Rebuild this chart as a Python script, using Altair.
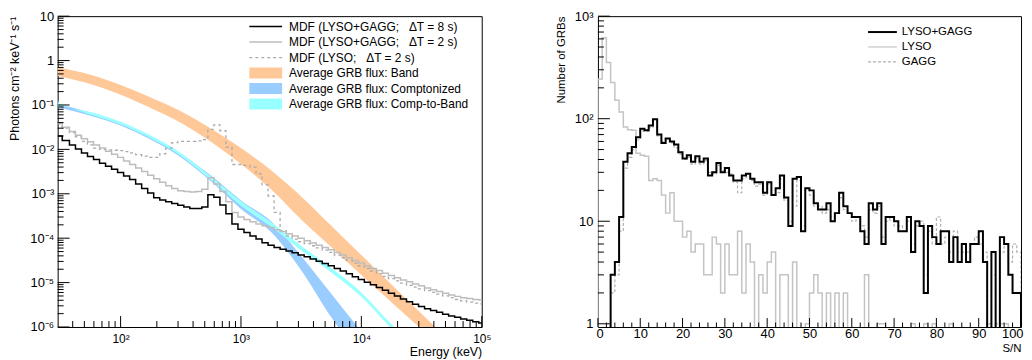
import altair as alt
import pandas as pd

FONT = "Liberation Sans"

# ---------------- LEFT PANEL: MDF vs energy ----------------
# log10(E / keV) of the MDF histogram points
mdf_log_energy = [1.48, 1.55, 1.60, 1.65, 1.70, 1.75, 1.80, 1.85, 1.90, 1.95,
                  2.00, 2.05, 2.10, 2.15, 2.20, 2.25, 2.30, 2.35, 2.40, 2.45,
                  2.50, 2.55, 2.60, 2.65, 2.70, 2.75, 2.80, 2.85, 2.90, 2.95,
                  3.00, 3.05, 3.10, 3.15, 3.20, 3.25, 3.30, 3.35, 3.40, 3.45,
                  3.50, 3.55, 3.60, 3.65, 3.70, 3.75, 3.80, 3.85, 3.90, 3.95,
                  4.00, 4.05, 4.10, 4.15, 4.20, 4.25, 4.30, 4.35, 4.40, 4.45,
                  4.50, 4.55, 4.60, 4.65, 4.70, 4.75, 4.80, 4.85, 4.90, 4.95,
                  5.00]
# log10(flux)
mdf_lyso_gagg_8s = [-1.70, -1.80, -1.90, -1.99, -2.08, -2.16, -2.23, -2.31, -2.38, -2.45,
                    -2.52, -2.60, -2.68, -2.78, -2.88, -2.98, -3.09, -3.14, -3.18, -3.22,
                    -3.26, -3.30, -3.33, -3.33, -3.30, -3.02, -3.08, -3.25, -3.45, -3.68,
                    -3.80, -3.87, -3.95, -4.02, -4.10, -4.16, -4.21, -4.25, -4.29, -4.33,
                    -4.38, -4.42, -4.47, -4.52, -4.57, -4.62, -4.68, -4.74, -4.80, -4.87,
                    -4.93, -4.99, -5.05, -5.11, -5.17, -5.24, -5.30, -5.37, -5.43, -5.49,
                    -5.54, -5.59, -5.63, -5.67, -5.71, -5.75, -5.78, -5.82, -5.85, -5.88,
                    -5.91]
mdf_lyso_gagg_2s = [-1.40, -1.50, -1.60, -1.68, -1.76, -1.83, -1.90, -1.97, -2.04, -2.11,
                    -2.18, -2.26, -2.34, -2.42, -2.50, -2.58, -2.66, -2.74, -2.82, -2.88,
                    -2.93, -2.95, -2.96, -2.95, -2.90, -2.64, -2.78, -2.95, -3.18, -3.42,
                    -3.52, -3.58, -3.63, -3.68, -3.72, -3.76, -3.81, -3.85, -3.90, -3.95,
                    -4.00, -4.06, -4.11, -4.16, -4.21, -4.26, -4.32, -4.38, -4.44, -4.50,
                    -4.56, -4.62, -4.68, -4.73, -4.79, -4.84, -4.89, -4.94, -4.98, -5.03,
                    -5.07, -5.12, -5.16, -5.20, -5.24, -5.28, -5.31, -5.34, -5.36, -5.38,
                    -5.39]
mdf_lyso_2s = [-1.42, -1.52, -1.62, -1.72, -1.82, -1.90, -1.97, -2.00, -2.01, -2.02,
               -2.03, -2.05, -2.08, -2.12, -2.15, -2.18, -2.18, -2.10, -1.97, -1.85,
               -1.82, -1.82, -1.82, -1.81, -1.78, -1.55, -1.45, -1.58, -1.95, -2.34,
               -2.34, -2.36, -2.40, -2.55, -2.80, -3.05, -3.42, -3.83, -3.95, -4.02,
               -4.08, -4.12, -4.17, -4.22, -4.27, -4.32, -4.38, -4.44, -4.50, -4.56,
               -4.62, -4.68, -4.74, -4.80, -4.86, -4.91, -4.96, -5.01, -5.06, -5.10,
               -5.14, -5.18, -5.22, -5.26, -5.30, -5.34, -5.38, -5.41, -5.44, -5.46,
               -5.48]

# Average GRB flux bands: log10(E/keV), log10(upper), log10(lower)
band_log_energy = [1.477, 1.75, 2.0, 2.25, 2.5, 2.75, 3.0, 3.25, 3.5, 3.75, 4.0, 4.25, 4.5, 4.75]
band_upper = [-0.15, -0.32, -0.55, -0.83, -1.14, -1.53, -1.97, -2.47, -3.06, -3.72, -4.38, -5.04, -5.70, -6.35]
band_lower = [-0.34, -0.53, -0.77, -1.07, -1.40, -1.83, -2.33, -2.90, -3.58, -4.20, -4.83, -5.44, -6.05, -6.65]

compt_log_energy = [1.477, 1.75, 2.0, 2.25, 2.5, 2.75, 3.0, 3.25, 3.5, 3.75, 4.0]
compt_upper = [-0.97, -1.17, -1.39, -1.70, -2.09, -2.59, -3.15, -3.62, -4.40, -5.25, -6.10]
compt_lower = [-1.05, -1.24, -1.46, -1.78, -2.18, -2.72, -3.34, -3.86, -4.72, -5.78, -6.70]

c2b_log_energy = [1.477, 1.49, 1.75, 2.0, 2.25, 2.5, 2.75, 3.0, 3.25, 3.5, 3.75, 4.0, 4.25, 4.5]
c2b_upper = [-0.85, -0.97, -1.16, -1.38, -1.69, -2.08, -2.61, -3.17, -3.64, -4.17, -4.67, -5.22, -5.94, -6.60]
c2b_lower = [-1.12, -1.03, -1.22, -1.44, -1.75, -2.15, -2.69, -3.27, -3.74, -4.27, -4.77, -5.32, -6.04, -6.70]

# ---------------- RIGHT PANEL: S/N distributions (bins of width 1, 0..100) ----------------
sn_bin_low = list(range(100))
n_lyso_gagg = [0, 0, 0, 3, 4, 11, 38, 46, 53, 66,
               80, 77, 86, 99, 70, 58, 64, 60, 56, 47,
               41, 44, 38, 43, 38, 41, 28, 30, 37, 30,
               33, 28, 25, 25, 28, 29, 26, 24, 24, 19,
               24, 18, 21, 28, 17, 9, 26, 27, 8, 21,
               20, 15, 13, 13, 15, 10, 12, 19, 14, 12,
               11, 11, 8, 6, 15, 13, 15, 6, 11, 11,
               10, 8, 8, 11, 5, 10, 9, 2, 9, 7,
               6, 8, 8, 4, 7, 4, 6, 4, 6, 6,
               8, 4, 0, 5, 0, 7, 6, 3, 2, 2]
n_gagg = [0, 0, 0, 2, 3, 8, 33, 42, 50, 62,
          76, 75, 82, 95, 68, 60, 62, 58, 52, 45,
          40, 42, 36, 41, 36, 39, 30, 29, 35, 31,
          30, 29, 24, 19, 26, 27, 25, 22, 23, 18,
          23, 18, 19, 26, 16, 10, 14, 25, 9, 20,
          18, 14, 14, 12, 13, 11, 12, 17, 13, 12,
          10, 11, 9, 7, 13, 12, 14, 7, 10, 11,
          9, 9, 8, 10, 6, 9, 10, 3, 8, 6,
          11, 6, 7, 5, 8, 5, 5, 5, 6, 7,
          6, 5, 1, 3, 1, 5, 6, 4, 6, 5]
n_lyso = [244, 617, 353, 226, 151, 116, 83, 78, 77, 46,
          44, 43, 25, 26, 25, 18, 12, 19, 10, 10,
          7, 8, 5, 6, 6, 3, 3, 7, 6, 2,
          6, 3, 3, 8, 2, 6, 4, 0, 3, 2,
          4, 5, 0, 3, 3, 0, 4, 0, 0, 1,
          2, 3, 2, 0, 2, 0, 2, 0, 2, 0,
          0, 0, 0, 3, 0, 0, 1, 1, 0, 0,
          0, 0, 0, 0, 1, 0, 0, 1, 0, 1,
          0, 0, 0, 1, 0, 0, 0, 0, 0, 0,
          0, 0, 0, 0, 0, 1, 1, 0, 0, 0]

# tick positions
lx_major = [1e2, 1e3, 1e4, 1e5]
lx_minor = [m * 10 ** k for k in range(1, 5) for m in range(2, 10) if 30 < m * 10 ** k < 1e5]
ly_major = [10.0 ** k for k in range(-6, 2)]
ly_minor = [m * 10.0 ** k for k in range(-6, 1) for m in range(2, 10)]
rx_major = list(range(0, 101, 10))
rx_minor = [v for v in range(2, 100, 2) if v % 10]
ry_major = [1, 10, 100, 1000]
ry_minor = [m * 10 ** k for k in range(0, 3) for m in range(2, 10)]

LW, LH = 427, 313
RW, RH = 426, 313

# ---------------- helpers ----------------
def line_df(loge, logf):
    return pd.DataFrame({"x": [10 ** e for e in loge], "y": [10 ** f for f in logf],
                         "i": list(range(len(loge)))})

def band_df(loge, hi, lo):
    return pd.DataFrame({"x": [10 ** e for e in loge], "y": [10 ** h for h in hi],
                         "y2": [10 ** l for l in lo]})

def hist_df(counts):
    vals = [c if c > 0 else 0.5 for c in counts]
    xs = [0] + sn_bin_low + [100, 100]
    ys = [0.5] + vals + [vals[-1], 0.5]
    return pd.DataFrame({"x": xs, "y": ys, "i": list(range(len(xs)))})

axis_common = dict(ticks=False, domain=False, grid=False, labelFont=FONT, titleFont=FONT,
                   labelColor="black", titleColor="black", titleFontWeight="normal")

# ---------------- left panel ----------------
lxs = alt.Scale(type="log", domain=[30, 1e5], nice=False)
lys = alt.Scale(type="log", domain=[1e-6, 10], nice=False)
lxa = alt.Axis(title="Energy (keV)", titleAnchor="end", titleFontSize=12.5, titlePadding=1,
               labelFontSize=12, labelPadding=7, values=lx_major, labelFlush=False,
               labelExpr="['10²','10³','10⁴','10⁵'][round(log(datum.value)/LN10)-2]",
               **axis_common)
lya = alt.Axis(title="Photons cm⁻² keV⁻¹ s⁻¹", titleAnchor="end", titleFontSize=12.5,
               titlePadding=8, labelFontSize=13, labelPadding=4, values=ly_major,
               labelExpr="['10⁻⁶','10⁻⁵','10⁻⁴','10⁻³','10⁻²','10⁻¹','1','10'][round(log(datum.value)/LN10)+6]",
               **axis_common)
LX = alt.X("x:Q", scale=lxs, axis=lxa)
LY = alt.Y("y:Q", scale=lys, axis=lya)

def lband(df, color):
    return alt.Chart(df).mark_area(color=color, opacity=1, interpolate="monotone", clip=True).encode(
        x=LX, y=LY, y2="y2:Q")

def lline(df, color, width, dash=None):
    kw = dict(color=color, strokeWidth=width, interpolate="step", clip=True)
    if dash:
        kw["strokeDash"] = dash
    return alt.Chart(df).mark_line(**kw).encode(x=LX, y=LY, order="i:Q")

ORANGE, BLUE, CYAN = "#FFC898", "#99CCFF", "#99FFFF"
GRAY, DGRAY = "#BDBDBD", "#AAAAAA"

left_layers = [
    lband(band_df(band_log_energy, band_upper, band_lower), ORANGE),
    lband(band_df(compt_log_energy, compt_upper, compt_lower), BLUE),
    lband(band_df(c2b_log_energy, c2b_upper, c2b_lower), CYAN),
    lline(line_df(mdf_log_energy, mdf_lyso_2s), DGRAY, 1.3, [3, 3]),
    lline(line_df(mdf_log_energy, mdf_lyso_gagg_2s), GRAY, 1.5),
    lline(line_df(mdf_log_energy, mdf_lyso_gagg_8s), "black", 1.5),
]

def xticks(vals, X, H, length):
    return alt.Chart(pd.DataFrame({"x": vals})).mark_rule(color="black", strokeWidth=1).encode(
        x=X, y=alt.value(H), y2=alt.value(H - length))

def yticks(vals, Y, length):
    return alt.Chart(pd.DataFrame({"y": vals})).mark_rule(color="black", strokeWidth=1).encode(
        y=Y, x=alt.value(0), x2=alt.value(length))

left_layers += [xticks(lx_major, LX, LH, 11), xticks(lx_minor, LX, LH, 6),
                yticks(ly_major, LY, 12), yticks(ly_minor, LY, 6)]

def leg_line(x0, x1, y, color, width, dash=None):
    kw = dict(color=color, strokeWidth=width)
    if dash:
        kw["strokeDash"] = dash
    return alt.Chart(pd.DataFrame({"k": [0]})).mark_rule(**kw).encode(
        x=alt.value(x0), x2=alt.value(x1), y=alt.value(y))

def leg_rect(x0, x1, y, h, color):
    return alt.Chart(pd.DataFrame({"k": [0]})).mark_rect(color=color).encode(
        x=alt.value(x0), x2=alt.value(x1), y=alt.value(y - h / 2), y2=alt.value(y + h / 2))

def leg_text(x, y, text, size):
    return alt.Chart(pd.DataFrame({"t": [text]})).mark_text(
        align="left", baseline="middle", font=FONT, fontSize=size, color="black").encode(
        x=alt.value(x), y=alt.value(y), text="t:N")

NB = "\u00a0"
left_legend = [
    ("line", "black", 1.5, None, f"MDF (LYSO+GAGG;{NB}{NB}{NB}ΔT = 8 s)"),
    ("line", GRAY, 1.5, None, f"MDF (LYSO+GAGG;{NB}{NB}{NB}ΔT = 2 s)"),
    ("line", DGRAY, 1.3, [3, 3], f"MDF (LYSO;{NB}{NB}{NB}ΔT = 2 s)"),
    ("rect", ORANGE, None, None, "Average GRB flux: Band"),
    ("rect", BLUE, None, None, "Average GRB flux: Comptonized"),
    ("rect", CYAN, None, None, "Average GRB flux: Comp-to-Band"),
]
for j, (kind, color, w, dash, text) in enumerate(left_legend):
    yc = 10.5 + 15.6 * j
    if kind == "line":
        left_layers.append(leg_line(193, 226, yc, color, w, dash))
    else:
        left_layers.append(leg_rect(193, 226, yc, 11, color))
    left_layers.append(leg_text(233, yc, text, 12))

left = alt.layer(*left_layers).properties(width=LW, height=LH)

# ---------------- right panel ----------------
rxs = alt.Scale(type="linear", domain=[0, 100], nice=False, zero=False)
rys = alt.Scale(type="log", domain=[0.93, 1000], nice=False)
rxa = alt.Axis(title="S/N", titleAnchor="end", titleFontSize=11.5, titlePadding=2,
               labelFontSize=13, labelPadding=1, values=rx_major, format="d",
               labelFlush=True, labelFlushOffset=2, **axis_common)
rya = alt.Axis(title="Number of GRBs", titleAnchor="end", titleFontSize=11.5, titlePadding=8,
               labelFontSize=13, labelPadding=5, values=ry_major,
               labelExpr="['1','10','10²','10³'][round(log(datum.value)/LN10)]", **axis_common)
RX = alt.X("x:Q", scale=rxs, axis=rxa)
RY = alt.Y("y:Q", scale=rys, axis=rya)

def rhist(counts, color, width, dash=None):
    kw = dict(color=color, strokeWidth=width, interpolate="step-after", clip=True)
    if dash:
        kw["strokeDash"] = dash
    return alt.Chart(hist_df(counts)).mark_line(**kw).encode(x=RX, y=RY, order="i:Q")

right_layers = [
    rhist(n_gagg, "#B0B0B0", 1.2, [3, 2]),
    rhist(n_lyso, "#C4C4C4", 1.5),
    rhist(n_lyso_gagg, "black", 2),
    xticks(rx_major, RX, RH, 9), xticks(rx_minor, RX, RH, 4.5),
    yticks(ry_major, RY, 12), yticks(ry_minor, RY, 6),
]
right_legend = [
    ("black", 2, None, "LYSO+GAGG"),
    ("#C4C4C4", 1.2, None, "LYSO"),
    ("#B0B0B0", 1.2, [3, 2], "GAGG"),
]
for j, (color, w, dash, text) in enumerate(right_legend):
    yc = 16 + 15 * j
    right_layers.append(leg_line(272, 301, yc, color, w, dash))
    right_layers.append(leg_text(306, yc, text, 11.5))

right = alt.layer(*right_layers).properties(width=RW, height=RH)

chart = alt.hconcat(left, right, spacing=63).properties(
    padding={"left": 0, "top": 0, "right": 0, "bottom": 0},
    background="white",
).configure_view(stroke="black", strokeWidth=1)

chart.save("out.html", embed_options={"renderer": "svg", "actions": False})
